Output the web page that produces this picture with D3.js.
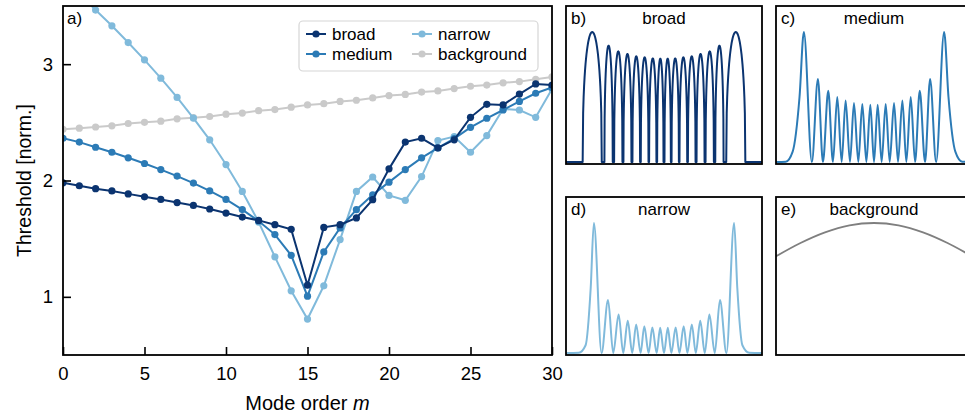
<!DOCTYPE html>
<html><head><meta charset="utf-8">
<script src="https://cdn.jsdelivr.net/npm/d3@7"></script>
<style>
html,body{margin:0;padding:0;background:#fff;}
svg text{font-family:"Liberation Sans",Arial,sans-serif;fill:#000;}
</style></head>
<body><svg id="c" width="965" height="417"></svg>
<script>
// ---------- data ----------
const modeOrder = [0,1,2,3,4,5,6,7,8,9,10,11,12,13,14,15,16,17,18,19,20,21,22,23,24,25,26,27,28,29,30];
const broad = [1.98,1.955,1.93,1.91,1.885,1.86,1.837,1.81,1.786,1.755,1.72,1.686,1.657,1.62,1.58,1.10,1.597,1.62,1.678,1.835,2.10,2.33,2.363,2.28,2.35,2.543,2.655,2.65,2.743,2.83,2.82];
const medium = [2.363,2.33,2.286,2.243,2.195,2.146,2.094,2.038,1.978,1.91,1.837,1.75,1.652,1.535,1.357,1.006,1.386,1.592,1.749,1.877,1.986,2.094,2.195,2.28,2.36,2.457,2.535,2.606,2.68,2.75,2.80];
const narrow = [3.76,3.61,3.465,3.33,3.186,3.037,2.88,2.714,2.537,2.35,2.137,1.906,1.643,1.344,1.052,0.809,1.095,1.492,1.906,2.03,1.872,1.83,2.034,2.343,2.377,2.243,2.386,2.614,2.606,2.543,2.786];
const background = [2.44,2.45,2.46,2.47,2.49,2.50,2.51,2.53,2.54,2.55,2.57,2.58,2.60,2.61,2.63,2.65,2.66,2.68,2.69,2.71,2.73,2.74,2.76,2.77,2.79,2.81,2.82,2.84,2.85,2.87,2.89];
const seriesNames = ["broad","medium","narrow","background"];
const xTicks = [0,5,10,15,20,25,30];
const yTicks = [1,2,3];

// profile b) broad: lobes [start, end, height] (normalized position -1..1)
const broadLobeStart = [-0.830,-0.608,-0.509,-0.414,-0.322,-0.237,-0.152,-0.070, 0.005,0.077,0.158,0.244,0.332,0.424,0.523,0.635];
const broadLobeEnd   = [-0.635,-0.523,-0.424,-0.332,-0.244,-0.158,-0.077,-0.005, 0.070,0.152,0.237,0.322,0.414,0.509,0.608,0.830];
const broadLobeH     = [1.0,0.895,0.851,0.831,0.813,0.805,0.797,0.795, 0.795,0.797,0.805,0.813,0.831,0.851,0.895,1.0];
// profile c) medium: key points (position, value), left half; mirrored
const mediumPos = [-1.0,-0.90,-0.83,-0.76,-0.7155,-0.634,-0.5724,-0.521,-0.4668,-0.419,-0.3748,-0.330,-0.2896,-0.245,-0.2044,-0.160,-0.1193,-0.078,-0.0375,0.0];
const mediumVal = [0,0.003,0.08,0.5,1.0,0,0.638,0,0.549,0,0.5,0,0.474,0,0.454,0,0.446,0,0.441,0];
// profile d) narrow
const narrowPos = [-1.0,-0.87,-0.80,-0.748,-0.7155,-0.637,-0.571,-0.518,-0.463,-0.416,-0.370,-0.324,-0.284,-0.239,-0.201,-0.157,-0.119,-0.075,-0.039,0.0];
const narrowVal = [0,0.002,0.06,0.5,1.0,0,0.407,0,0.297,0,0.248,0,0.220,0,0.207,0,0.197,0,0.194,0];
// profile e) background
const bgPos = [-1,-0.75,-0.5,-0.25,0,0.25,0.5,0.75,1];
const bgVal = [0.744,0.846,0.928,0.982,1.0,0.982,0.928,0.846,0.744];

const colors = {broad:"#0b3470", medium:"#2c7bb6", narrow:"#80badb", background:"#cacaca"};

// ---------- main plot ----------
const svg = d3.select("#c");
const M = {l:63, r:552, t:6, b:355};
const x = d3.scaleLinear().domain([0,30]).range([M.l,M.r]);
const y = d3.scaleLinear().domain([0.5,3.5]).range([M.b,M.t]);

svg.append("clipPath").attr("id","clipA").append("rect")
  .attr("x",M.l).attr("y",M.t).attr("width",M.r-M.l).attr("height",M.b-M.t);

const data = {broad, medium, narrow, background};
const order = ["background","narrow","medium","broad"];
const g = svg.append("g").attr("clip-path","url(#clipA)");
const line = d3.line().x((d,i)=>x(modeOrder[i])).y(d=>y(d));
order.forEach(k=>{
  g.append("path").datum(data[k]).attr("fill","none").attr("stroke",colors[k])
    .attr("stroke-width",2).attr("d",line);
  g.selectAll(null).data(data[k]).enter().append("circle")
    .attr("cx",(d,i)=>x(modeOrder[i])).attr("cy",d=>y(d)).attr("r",3.6).attr("fill",colors[k]);
});

// axes
const xAxis = d3.axisBottom(x).tickValues(xTicks).tickSize(-8).tickPadding(12).tickFormat(d3.format("d"));
const yAxis = d3.axisLeft(y).tickValues(yTicks).tickSize(-8).tickPadding(10).tickFormat(d3.format("d"));
const gx = svg.append("g").attr("transform",`translate(0,${M.b})`).call(xAxis);
const gy = svg.append("g").attr("transform",`translate(${M.l},0)`).call(yAxis);
[gx,gy].forEach(a=>{
  a.select(".domain").remove();
  a.selectAll(".tick line").attr("stroke","#000").attr("stroke-width",1.6);
  a.selectAll(".tick text").attr("font-size",18.5).attr("font-family","Liberation Sans, Arial, sans-serif").attr("fill","#000");
});
svg.append("rect").attr("x",M.l).attr("y",M.t).attr("width",M.r-M.l).attr("height",M.b-M.t)
  .attr("fill","none").attr("stroke","#000").attr("stroke-width",1.8);

svg.append("text").attr("x",67).attr("y",24).attr("font-size",17).text("a)");
const xl = svg.append("text").attr("x",(M.l+M.r)/2).attr("y",410).attr("text-anchor","middle").attr("font-size",20);
xl.append("tspan").text("Mode order ");
xl.append("tspan").attr("font-style","italic").text("m");
svg.append("text").attr("transform",`translate(31,${(M.t+M.b)/2}) rotate(-90)`).attr("text-anchor","middle")
  .attr("font-size",19.5).text("Threshold [norm.]");

// legend
const lg = svg.append("g");
lg.append("rect").attr("x",299).attr("y",21).attr("width",239).attr("height",50).attr("rx",4)
  .attr("fill","#fff").attr("fill-opacity",0.85).attr("stroke","#d6d6d6").attr("stroke-width",1.2);
const legPos = [[306,34],[306,54],[412,34],[412,54]];
seriesNames.forEach((k,i)=>{
  const [lx,ly] = legPos[i];
  lg.append("line").attr("x1",lx).attr("x2",lx+20).attr("y1",ly).attr("y2",ly).attr("stroke",colors[k]).attr("stroke-width",2);
  lg.append("circle").attr("cx",lx+10).attr("cy",ly).attr("r",3.6).attr("fill",colors[k]);
  lg.append("text").attr("x",lx+26).attr("y",ly+6).attr("font-size",17).text(k);
});

// ---------- small panels ----------
const panels = [
  {id:"b)", title:"broad",      x0:566, y0:6,   color:colors.broad},
  {id:"c)", title:"medium",     x0:776, y0:6,   color:colors.medium},
  {id:"d)", title:"narrow",     x0:566, y0:197, color:colors.narrow},
  {id:"e)", title:"background", x0:776, y0:197, color:"#7f7f7f"}
];
const PW = 196, PH = 158;

function mirror(pos, val){
  const P = pos.slice(), V = val.slice();
  for(let i=pos.length-2;i>=0;i--){ P.push(-pos[i]); V.push(val[i]); }
  return P.map((p,i)=>[p,V[i]]);
}
function broadPoints(){
  const pts = [[-1,0]];
  broadLobeStart.forEach((s,i)=>{
    const e = broadLobeEnd[i], h = broadLobeH[i];
    pts.push([s,0]);
    const n = 40;
    for(let j=1;j<n;j++){
      const t = j/n, q = 2*t-1;
      pts.push([s+(e-s)*t, h*Math.pow(1-q*q,0.42)]);
    }
    pts.push([e,0]);
  });
  pts.push([1,0]);
  return pts;
}
const profiles = [
  {pts:broadPoints(), curve:d3.curveLinear},
  {pts:mirror(mediumPos,mediumVal), curve:d3.curveMonotoneX},
  {pts:mirror(narrowPos,narrowVal), curve:d3.curveMonotoneX},
  {pts:bgPos.map((p,i)=>[p,bgVal[i]]), curve:d3.curveMonotoneX}
];

panels.forEach((p,i)=>{
  const px = d3.scaleLinear().domain([-1,1]).range([p.x0,p.x0+PW]);
  const py = d3.scaleLinear().domain([-0.015,1.2]).range([p.y0+PH,p.y0]);
  const cid = "clipP"+i;
  svg.append("clipPath").attr("id",cid).append("rect").attr("x",p.x0).attr("y",p.y0).attr("width",PW).attr("height",PH);
  svg.append("path").datum(profiles[i].pts).attr("clip-path",`url(#${cid})`)
    .attr("fill","none").attr("stroke",p.color).attr("stroke-width",i===3?1.8:2)
    .attr("stroke-linejoin","round")
    .attr("d",d3.line().x(d=>px(d[0])).y(d=>py(d[1])).curve(profiles[i].curve));
  svg.append("rect").attr("x",p.x0).attr("y",p.y0).attr("width",PW).attr("height",PH)
    .attr("fill","none").attr("stroke","#000").attr("stroke-width",1.8);
  svg.append("text").attr("x",p.x0+5).attr("y",p.y0+18).attr("font-size",17).text(p.id);
  svg.append("text").attr("x",p.x0+PW/2).attr("y",p.y0+18).attr("text-anchor","middle").attr("font-size",17).text(p.title);
});
</script></body></html>
